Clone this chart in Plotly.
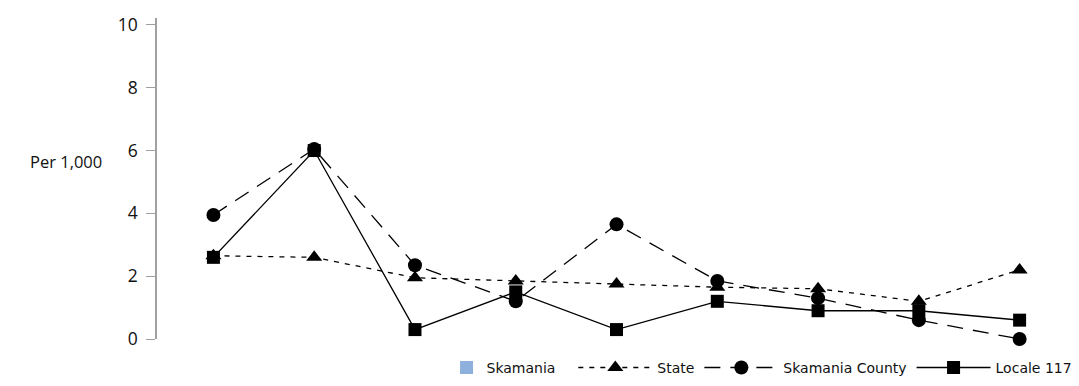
import plotly.graph_objects as go

# values (per 1,000)
periods = ["P1", "P2", "P3", "P4", "P5", "P6", "P7", "P8", "P9"]
skamania = [None] * 9
state = [2.65, 2.6, 1.95, 1.85, 1.75, 1.65, 1.6, 1.2, 2.2]
skamania_county = [3.95, 6.05, 2.35, 1.2, 3.65, 1.85, 1.3, 0.6, 0.0]
locale_117 = [2.6, 6.0, 0.3, 1.5, 0.3, 1.2, 0.9, 0.9, 0.6]
y_ticks = [0, 2, 4, 6, 8, 10]

fig = go.Figure()

# this series has no visible values, only its legend key (kept in its own legend
# so the little square sits next to its label)
fig.add_trace(go.Scatter(x=periods, y=skamania, name="Skamania", mode="markers",
                         marker=dict(symbol="square", size=13, color="#8DB0DD"),
                         showlegend=True, legend="legend2"))

fig.add_trace(go.Scatter(x=periods, y=state, name="State", mode="lines+markers",
                         line=dict(color="black", width=1.3, dash="5px,6px"),
                         marker=dict(symbol="triangle-up", size=14, color="black"),
                         cliponaxis=False))

fig.add_trace(go.Scatter(x=periods, y=skamania_county, name="Skamania County",
                         mode="lines+markers",
                         line=dict(color="black", width=1.3, dash="16px,10px"),
                         marker=dict(symbol="circle", size=14, color="black"),
                         cliponaxis=False))

fig.add_trace(go.Scatter(x=periods, y=locale_117, name="Locale 117",
                         mode="lines+markers",
                         line=dict(color="black", width=1.3),
                         marker=dict(symbol="square", size=13, color="black"),
                         cliponaxis=False))

fig.add_annotation(text="Per 1,000", xref="paper", yref="y", x=0, y=5.65,
                   xanchor="right", yanchor="middle", xshift=-53, showarrow=False,
                   font=dict(family="Open Sans", size=16.5, color="#111"))

legend_font = dict(family="DejaVu Sans", size=14, color="#111")

# the page body has an 8px margin, so the figure is 8px smaller than the window
fig.update_layout(
    width=1071, height=378,
    margin=dict(l=149, r=2, t=10, b=40),
    paper_bgcolor="white", plot_bgcolor="white",
    showlegend=True,
    legend=dict(orientation="h", x=1.008, xanchor="right", y=-0.09, yanchor="middle",
                font=legend_font, itemwidth=74, traceorder="normal"),
    legend2=dict(orientation="h", x=0.442, xanchor="right", y=-0.09, yanchor="middle",
                 font=legend_font, itemwidth=30),
    xaxis=dict(type="category", range=[-0.56, 8.5], showticklabels=False,
               showline=False, showgrid=False, zeroline=False, ticks=""),
    yaxis=dict(range=[0, 10.22], tickvals=y_ticks, showgrid=False, zeroline=False,
               showline=True, linecolor="#a0a0a0", linewidth=1.5,
               ticks="outside", ticklen=9, tickcolor="#a0a0a0",
               ticklabelstandoff=5,
               tickfont=dict(family="Open Sans", size=17.5, color="#111")),
)

fig.write_html("out.html")
